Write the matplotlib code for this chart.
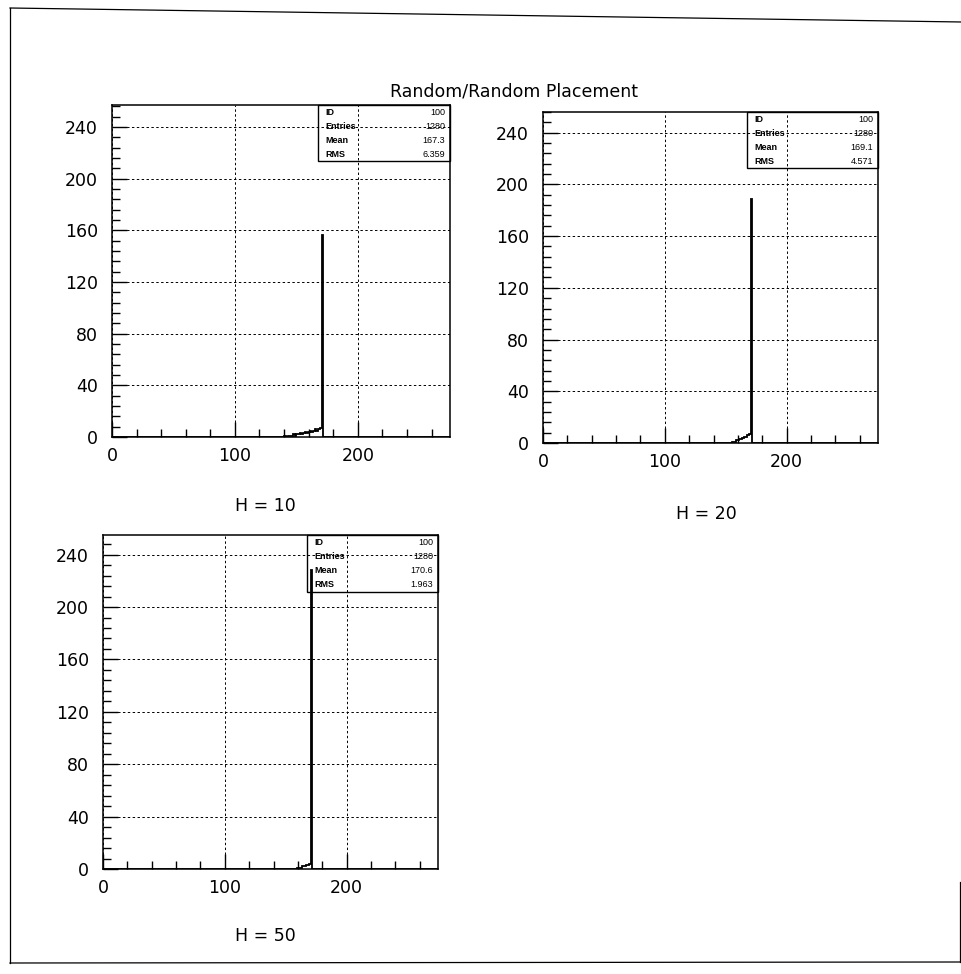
import numpy as np
import matplotlib
matplotlib.use('Agg')
import matplotlib.pyplot as plt
from matplotlib.lines import Line2D
from matplotlib.ticker import MultipleLocator

# histogram binning
x_min, x_max, n_bins = 0, 275, 200

# non-empty bins: first bin index + contents
h10_first_bin = 102
h10_counts = [1, 0, 1, 1, 1, 2, 1, 2, 2, 3, 2, 3, 4, 3, 4, 5, 4, 5, 6, 5, 6, 7, 156]
h20_first_bin = 113
h20_counts = [1, 1, 2, 2, 3, 3, 4, 5, 5, 6, 7, 189]
h50_first_bin = 116
h50_counts = [1, 1, 1, 2, 2, 3, 3, 4, 228]

labels = ['H = 10', 'H = 20', 'H = 50']
stat_ids = [100, 100, 100]
stat_entries = [1280, 1280, 1280]
stat_means = ['167.3', '169.1', '170.6']
stat_rms = ['6.359', '4.571', '1.963']

y_ticks = [0, 40, 80, 120, 160, 200, 240]
x_ticks = [0, 100, 200]

W, H = 962, 974
fig = plt.figure(figsize=(W / 100, H / 100), dpi=100)


def px(x0, y0, x1, y1):
    """pixel box (left, top, right, bottom) -> figure rect"""
    return [x0 / W, 1 - y1 / H, (x1 - x0) / W, (y1 - y0) / H]


edges = np.linspace(x_min, x_max, n_bins + 1)
hists = []
for first, vals in [(h10_first_bin, h10_counts), (h20_first_bin, h20_counts),
                    (h50_first_bin, h50_counts)]:
    c = np.zeros(n_bins)
    c[first:first + len(vals)] = vals
    hists.append(c)

boxes = [px(112, 105, 450, 437), px(543, 112, 878, 443), px(103, 535, 438, 869)]
ylims = [257, 256, 255]
label_pos = [(265, 506), (706, 514), (265, 936)]

for i in range(3):
    ax = fig.add_axes(boxes[i])
    ax.stairs(hists[i], edges, color='black', linewidth=1.3)
    ax.set_xlim(x_min, x_max)
    ax.set_ylim(0, ylims[i])
    ax.set_xticks(x_ticks)
    ax.set_yticks(y_ticks)
    ax.xaxis.set_minor_locator(MultipleLocator(20))
    ax.yaxis.set_minor_locator(MultipleLocator(8))
    ax.tick_params(which='major', direction='in', length=11, width=1,
                   labelsize=12.5, pad=7, color='black')
    ax.tick_params(which='minor', direction='in', length=5.5, width=1)
    ax.tick_params(axis='y', pad=10)
    ax.grid(True, which='major', color='black', linestyle=(0, (2.5, 2.5)),
            linewidth=0.7)
    for s in ax.spines.values():
        s.set_linewidth(1.1)

    # stats box (transparent, like PAW)
    bx0, by0 = 0.61, 0.83
    ax.add_patch(plt.Rectangle((bx0, by0), 1 - bx0, 1 - by0, transform=ax.transAxes,
                               fill=False, edgecolor='black', linewidth=1.0,
                               zorder=5, clip_on=False))
    rows = [('ID', str(stat_ids[i])), ('Entries', str(stat_entries[i])),
            ('Mean', stat_means[i]), ('RMS', stat_rms[i])]
    rh = (1 - by0) / 4
    for r, (k, v) in enumerate(rows):
        yy = 1 - rh * (r + 0.5)
        ax.text(bx0 + 0.02, yy, k, transform=ax.transAxes, fontsize=6.5,
                family='Liberation Sans', fontweight='bold', va='center', ha='left')
        ax.text(0.985, yy, v, transform=ax.transAxes, fontsize=6.5,
                family='Liberation Sans', va='center', ha='right')

    fig.text(label_pos[i][0] / W, 1 - label_pos[i][1] / H, labels[i],
             fontsize=12.5, ha='center', va='center')

fig.text(514 / W, 1 - 92 / H, 'Random/Random Placement', fontsize=12.5,
         ha='center', va='center')

# page frame from the scan
frame = [((10, 8), (962, 22)), ((10, 8), (10, 963)),
         ((10, 963), (962, 962)), ((960, 882), (960, 962))]
for (xa, ya), (xb, yb) in frame:
    fig.add_artist(Line2D([xa / W, xb / W], [1 - ya / H, 1 - yb / H],
                          color='black', linewidth=0.9, transform=fig.transFigure))

fig.savefig('out.png', dpi=100)
